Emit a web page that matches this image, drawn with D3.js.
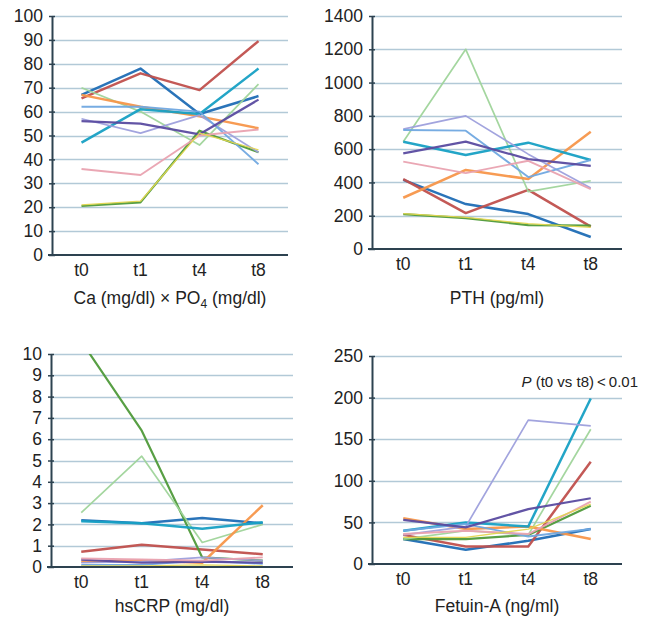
<!DOCTYPE html>
<html>
<head>
<meta charset="utf-8">
<script src="https://cdn.jsdelivr.net/npm/d3@7/dist/d3.min.js"></script>
<style>
  body { margin: 0; background: #fff; }
  svg { font-family: "Liberation Sans", Arial, sans-serif; }
</style>
</head>
<body>
<div id="chart"></div>
<script>
// time points on the x axis
var timePoints = ["t0", "t1", "t4", "t8"];

// one colour per patient line
var seriesColors = ["#1f6db5", "#c0504d", "#4f9a3a", "#9fd49a", "#f7964a", "#17a0c4",
                    "#9d9fdc", "#70a8e0", "#5a4ba0", "#e9a2b0", "#e3d650"];
var seriesWidths = [2.5, 2.5, 2.2, 1.7, 2.5, 2.5, 1.7, 1.9, 2.2, 1.9, 1.3];

// Ca x PO4 (mg/dl)
var caPo4 = [
  [67, 78, 59, 66.5],
  [65.5, 76, 69, 89.5],
  [20.5, 22, 52, 43],
  [70, 60, 46, 71.5],
  [67, 62, 58, 53],
  [47, 61, 59, 78],
  [57, 51, 58.5, 43],
  [62, 62, 60, 38],
  [56, 55, 50.5, 65],
  [36, 33.5, 50, 52.5],
  [21, 22.5, 51, 44]
];
var caPo4Ticks = [0, 10, 20, 30, 40, 50, 60, 70, 80, 90, 100];

// PTH (pg/ml)
var pth = [
  [415, 270, 210, 72],
  [420, 216, 355, 134],
  [210, 186, 144, 140],
  [645, 1200, 345, 410],
  [308, 475, 420, 705],
  [645, 565, 639, 535],
  [720, 800, 570, 366],
  [715, 711, 432, 535],
  [575, 645, 540, 499],
  [525, 456, 530, 360],
  [212, 190, 152, 130]
];
var pthTicks = [0, 200, 400, 600, 800, 1000, 1200, 1400];

// hsCRP (mg/dl)
var hsCrp = [
  [2.2, 2.05, 2.3, 2.05],
  [0.72, 1.05, 0.82, 0.6],
  [10.6, 6.4, 0.45, 0.3],
  [2.55, 5.2, 1.15, 2.0],
  [0.25, 0.3, 0.2, 2.9],
  [2.15, 2.05, 1.8, 2.1],
  [0.2, 0.25, 0.45, 0.3],
  [0.1, 0.1, 0.3, 0.15],
  [0.35, 0.2, 0.25, 0.2],
  [0.4, 0.35, 0.3, 0.45],
  [0.05, 0.05, 0.1, 0.05]
];
var hsCrpTicks = [0, 1, 2, 3, 4, 5, 6, 7, 8, 9, 10];

// Fetuin-A (ng/ml)
var fetuin = [
  [30, 17, 28, 42],
  [35, 21, 21, 123],
  [30, 30, 35, 70],
  [30, 40, 35, 162],
  [55, 42, 45, 30],
  [40, 50, 45, 199],
  [35, 45, 173, 166],
  [40, 48, 33, 42],
  [53, 44, 66, 79],
  [36, 40, 36, 75],
  [32, 32, 42, 72]
];
var fetuinTicks = [0, 50, 100, 150, 200, 250];

var W = 649, H = 618;
var fontSize = 17.5;

var svg = d3.select("#chart").append("svg")
  .attr("width", W)
  .attr("height", H);

//panel layout: left axis, right edge, top/bottom of value range, title baseline//
var panels = [
  {id: "p1", data: caPo4, ticks: caPo4Ticks, max: 100, left: 52, right: 288, top: 16, bottom: 255, titleY: 304, title: "ca"},
  {id: "p2", data: pth, ticks: pthTicks, max: 1400, left: 372, right: 622, top: 16, bottom: 249, titleY: 304, title: "PTH (pg/ml)"},
  {id: "p3", data: hsCrp, ticks: hsCrpTicks, max: 10, left: 51, right: 293, top: 354, bottom: 567, titleY: 612, title: "hsCRP (mg/dl)"},
  {id: "p4", data: fetuin, ticks: fetuinTicks, max: 250, left: 372, right: 622, top: 356, bottom: 564, titleY: 612, title: "Fetuin-A (ng/ml)"}
];

panels.forEach(function(p) {
  var x = d3.scalePoint().domain(timePoints).range([p.left, p.right]).padding(0.5);
  var y = d3.scaleLinear().domain([0, p.max]).range([p.bottom, p.top]);

  var g = svg.append("g");

  // gridlines
  g.selectAll(".grid").data(p.ticks.slice(1)).enter().append("line")
    .attr("x1", p.left).attr("x2", p.right)
    .attr("y1", function(d) { return Math.round(y(d)) + 0.5; })
    .attr("y2", function(d) { return Math.round(y(d)) + 0.5; })
    .attr("stroke", "#b2c9d7").attr("stroke-width", 1.5);

  // lines, clipped to the plot box
  var clipId = "clip-" + p.id;
  svg.append("clipPath").attr("id", clipId).append("rect")
    .attr("x", p.left).attr("y", p.top)
    .attr("width", p.right - p.left).attr("height", p.bottom - p.top);

  var line = d3.line()
    .x(function(d, i) { return x(timePoints[i]); })
    .y(function(d) { return y(d); });

  g.append("g").attr("clip-path", "url(#" + clipId + ")")
    .selectAll("path").data(p.data).enter().append("path")
    .attr("d", line)
    .attr("fill", "none")
    .attr("stroke", function(d, i) { return seriesColors[i]; })
    .attr("stroke-width", function(d, i) { return seriesWidths[i]; })
    .attr("stroke-linejoin", "round")
    .attr("opacity", 0.95);

  // y axis
  var yAxis = d3.axisLeft(y).tickValues(p.ticks).tickFormat(d3.format("d"))
    .tickSizeInner(4).tickSizeOuter(0).tickPadding(5);
  var ya = g.append("g").attr("transform", "translate(" + p.left + ",0)").call(yAxis);
  ya.select(".domain").attr("stroke", "#2d4250").attr("stroke-width", 2);
  ya.selectAll(".tick line").attr("stroke", "#2d4250").attr("stroke-width", 1.5).attr("x2", 3).attr("x1", -3);
  ya.selectAll(".tick text").attr("font-size", fontSize).attr("fill", "#222").attr("font-family", "Liberation Sans, Arial, sans-serif");

  // x axis line
  g.append("line")
    .attr("x1", p.left - 4).attr("x2", p.right)
    .attr("y1", p.bottom).attr("y2", p.bottom)
    .attr("stroke", "#2d4250").attr("stroke-width", 2);

  // x tick labels
  g.selectAll(".xlab").data(timePoints).enter().append("text")
    .attr("x", function(d) { return x(d); })
    .attr("y", p.bottom + 21)
    .attr("text-anchor", "middle")
    .attr("font-size", fontSize)
    .attr("fill", "#222")
    .text(function(d) { return d; });

  // title under the panel
  var title = g.append("text")
    .attr("x", (p.left + p.right) / 2)
    .attr("y", p.titleY)
    .attr("text-anchor", "middle")
    .attr("font-size", fontSize)
    .attr("fill", "#222");
  if (p.title == "ca") {
    title.append("tspan").text("Ca (mg/dl) \u00d7 PO");
    title.append("tspan").attr("font-size", 12).attr("dy", 4).text("4");
    title.append("tspan").attr("dy", -4).text(" (mg/dl)");
  } else {
    title.text(p.title);
  }
});

//significance note on the Fetuin-A panel//
var note = svg.append("text")
  .attr("x", 638).attr("y", 387)
  .attr("text-anchor", "end")
  .attr("font-size", 15)
  .attr("fill", "#222");
note.append("tspan").attr("font-style", "italic").text("P");
note.append("tspan").text(" (t0 vs t8)\u2009<\u20090.01");
</script>
</body>
</html>
